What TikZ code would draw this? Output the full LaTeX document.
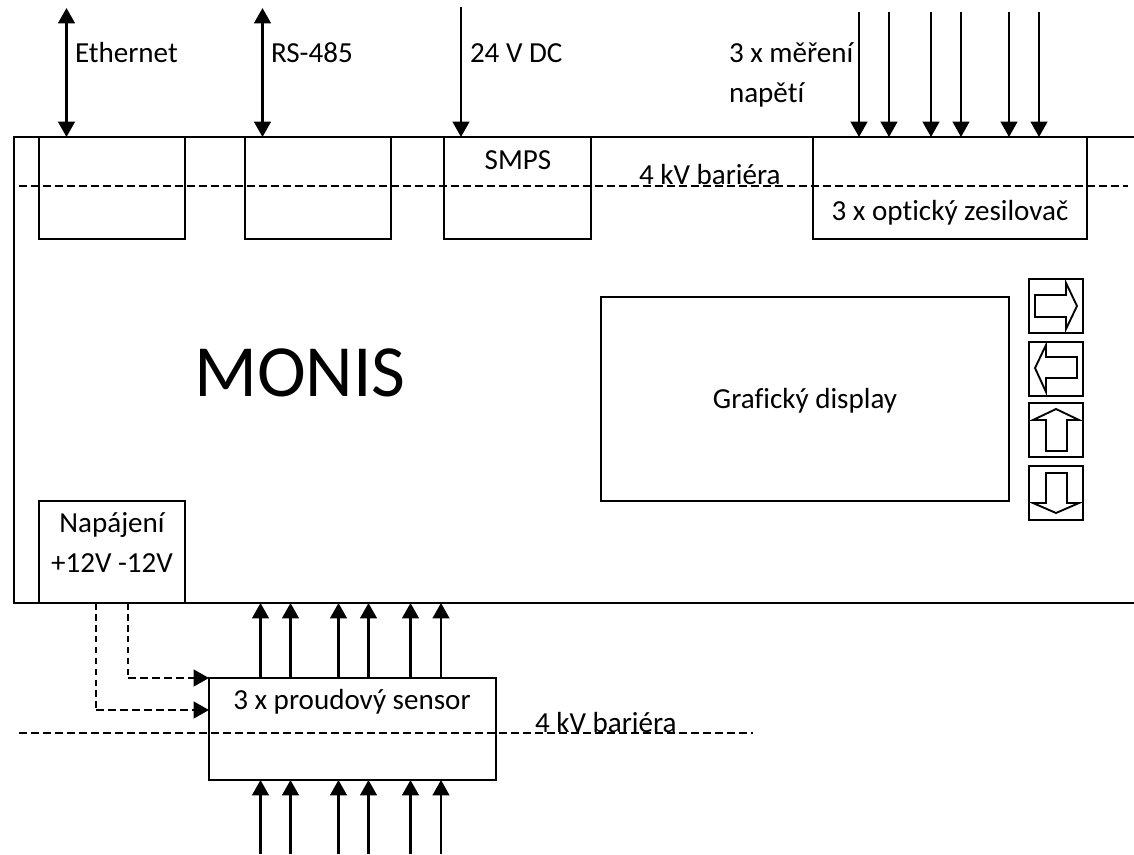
\documentclass[tikz,border=0pt]{standalone}
\usepackage{fontspec}
\setmainfont{Carlito}[Ligatures=NoCommon]
\usetikzlibrary{arrows.meta,calc}
\tikzset{
  x=0.75pt,y=-0.75pt,
  boxn/.style 2 args={draw=black,line width=1.3pt,inner sep=0pt,outer sep=0pt,anchor=north west,minimum width=#1*0.75pt,minimum height=#2*0.75pt},
  lbl/.style={inner sep=0pt,outer sep=0pt,font=\fontsize{21.8}{24}\selectfont,text=black},
  sig/.style={line width=1.7pt,draw=black,-{Triangle[length=11.5pt,width=12.5pt]}},
  bisig/.style={line width=1.7pt,draw=black,{Triangle[length=11.5pt,width=12.5pt]}-{Triangle[length=11.5pt,width=12.5pt]}},
  barrier/.style={line width=1.2pt,draw=black,dash pattern=on 6pt off 3pt},
  wirev/.style={line width=1.2pt,draw=black,dash pattern=on 5pt off 3.2pt},
  wireh/.style={line width=1.7pt,draw=black,dash pattern=on 6pt off 3pt,-{Triangle[length=11.5pt,width=12.5pt]}},
  key/.style={line width=1.4pt,draw=black,line join=miter},
}
\begin{document}
\begin{tikzpicture}
\useasboundingbox (0,0) rectangle (1134,854);
\clip (0,0) rectangle (1134,854);
% main enclosure, open at the right edge of the picture
\draw[line width=1.3pt] (1140,137) -- (14,137) -- (14,603) -- (1140,603);
% boxes
\node[boxn={146}{102}] (eth) at (39,137) {};
\node[boxn={146}{102}] (rs) at (245,137) {};
\node[boxn={147}{102}] (smps) at (444,137) {};
\node[boxn={274}{102}] (opt) at (813,137) {};
\node[boxn={408}{204}] (disp) at (601,297) {};
\node[boxn={146}{102}] (nap) at (39,501) {};
\node[boxn={287}{102}] (sens) at (209,678) {};
% barriers
\coordinate (b1a) at (19,186); \coordinate (b1b) at (1128,186);
\coordinate (b2a) at (19,733); \coordinate (b2b) at (753,733);
\draw[barrier] (b1a) -- (b1b);
\draw[barrier] (b2a) -- (b2b);
% top connectors
\coordinate (e1) at (66.5,8);
\coordinate (r1) at (262.5,8);
\coordinate (d1) at (461,7);
\draw[bisig] (e1) -- (e1 |- eth.north);
\draw[bisig] (r1) -- (r1 |- rs.north);
\draw[sig] (d1) -- (d1 |- smps.north);
\foreach \n/\x in {m1/859,m2/889,m3/931,m4/961,m5/1009,m6/1039}{
  \coordinate (\n) at (\x,12);
  \draw[sig] (\n) -- (\n |- opt.north);
}
% current sensor connectors
\coordinate (encl) at (300,603);
\foreach \n/\x in {s1/260.5,s2/290.5,s3/338.5,s4/368.5,s5/410.5,s6/441}{
  \coordinate (\n) at (\x,854);
  \draw[sig] (\n |- sens.north) -- (\n |- encl);
  \draw[sig] (\n) -- (\n |- sens.south);
}
% supply wires
\coordinate (w1) at (128,678); \coordinate (w2) at (96,710);
\draw[wirev] (w1 |- nap.south) -- (w1);
\draw[wirev] (w2 |- nap.south) -- (w2);
\draw[wireh] (w1) -- (sens.north west);
\draw[wireh] (w2) -- (w2 -| sens.west);
% labels
\node[lbl,anchor=base west] (t1) at (75,62) {Ethernet};
\node[lbl,anchor=base west] (t2) at (271,62) {RS-485};
\node[lbl,anchor=base west] (t3) at (470,62) {24 V DC};
\node[lbl,anchor=base] (t4) at (518,169) {SMPS};
\node[lbl,anchor=base west] (t5) at (639,184) {4 kV bariéra};
\node[lbl,anchor=base west] (t6) at (729,62) {3 x měření};
\node[lbl,anchor=base west] (t7) at (729,102) {napětí};
\node[lbl,anchor=base] (t8) at (950,220) {3 x optický zesilovač};
\node[inner sep=0pt,font=\fontsize{55.2}{60}\selectfont,anchor=base] (t9) at (300,396) {MONIS};
\node[lbl,anchor=base] (t10) at (112,532) {Napájení};
\node[lbl,anchor=base] (t11) at (112,572) {+12V -12V};
\node[lbl,anchor=base] (t12) at (352,709) {3 x proudový sensor};
\node[lbl,anchor=base west] (t13) at (535,732) {4 kV bariéra};
\node[lbl,anchor=base] (t14) at (805,408) {Grafický display};
% keypad
\node[boxn={54}{54}] (kr) at (1029,279) {};
\node[boxn={54}{54}] (kl) at (1029,342) {};
\node[boxn={54}{54}] (ku) at (1029,403) {};
\node[boxn={54}{54}] (kd) at (1029,466) {};
\draw[key] (1035,295)--(1066,295)--(1066,283)--(1077,306)--(1066,329)--(1066,317)--(1035,317)--cycle;
\draw[key] (1077,357)--(1046,357)--(1046,345)--(1035,368)--(1046,392)--(1046,378)--(1077,378)--cycle;
\draw[key] (1046,451)--(1046,420)--(1033,420)--(1056,409)--(1079,420)--(1067,420)--(1067,451)--cycle;
\draw[key] (1046,473)--(1046,503)--(1033,503)--(1056,513)--(1079,503)--(1067,503)--(1067,473)--cycle;
\end{tikzpicture}
\end{document}
